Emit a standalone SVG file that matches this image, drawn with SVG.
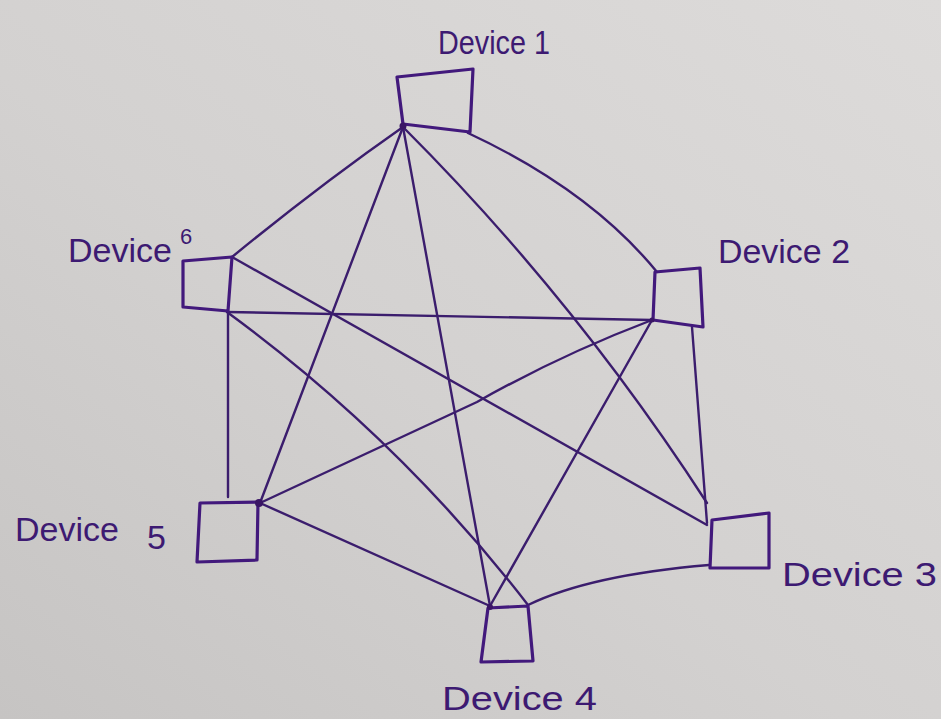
<svg xmlns="http://www.w3.org/2000/svg" width="941" height="719" viewBox="0 0 941 719">
<defs>
<linearGradient id="paper" x1="1" y1="0" x2="0" y2="1">
<stop offset="0" stop-color="#dddbda"/>
<stop offset="0.55" stop-color="#d3d1d0"/>
<stop offset="1" stop-color="#c6c4c3"/>
</linearGradient>
<style>
.link{fill:none;stroke:#3b1d6d;stroke-width:2.4;stroke-linecap:round;stroke-linejoin:round}
.box{fill:none;stroke:#42197c;stroke-width:3.2;stroke-linejoin:round}
.hub{fill:#3a1565}
.lbl{font-family:"Liberation Sans",Arial,sans-serif;fill:#3d1a72;font-size:34px}
</style>
</defs>
<rect x="0" y="0" width="941" height="719" fill="url(#paper)"/>
<g id="connectors">
<path class="link" d="M468,133 Q590,190 657,272"/>
<path class="link" d="M403,127 Q320,185 232,257"/>
<path class="link" d="M403,127 L260,503"/>
<path class="link" d="M403,127 L490,606"/>
<path class="link" d="M403,127 Q575,299 707,503"/>
<path class="link" d="M232,257 L707,525"/>
<path class="link" d="M227,312 L652,320"/>
<path class="link" d="M227,312 Q399,438 528,605"/>
<path class="link" d="M228,312 L228,497"/>
<path class="link" d="M260,503 L477,402 Q560,355 652,320"/>
<path class="link" d="M652,320 L490,606"/>
<path class="link" d="M692,327 L707,523"/>
<path class="link" d="M528,605 Q590,575 709,565"/>
<path class="link" d="M260,503 L490,606"/>
</g>
<g id="device1">
<path class="box" d="M397,77 L473,69 L470,132 L403,124 Z"/>
<circle class="hub" cx="403" cy="126" r="3.5"/>
<text class="lbl" x="438" y="54" font-size="32" textLength="112" lengthAdjust="spacingAndGlyphs">Device 1</text>
</g>
<g id="device2">
<path class="box" d="M655,272 L700,268 L703,327 L653,320 Z"/>
<circle class="hub" cx="652" cy="320" r="2.5"/>
<text class="lbl" x="718" y="263" textLength="132" lengthAdjust="spacingAndGlyphs">Device 2</text>
</g>
<g id="device3">
<path class="box" d="M712,520 L769,513 L769,568 L710,568 Z"/>
<text class="lbl" x="782" y="586" textLength="155" lengthAdjust="spacingAndGlyphs">Device 3</text>
</g>
<g id="device4">
<path class="box" d="M488,608 L528,606 L533,661 L481,662 Z"/>
<circle class="hub" cx="490" cy="607" r="3"/>
<text class="lbl" x="442" y="710" textLength="155" lengthAdjust="spacingAndGlyphs">Device 4</text>
</g>
<g id="device5">
<path class="box" d="M200,503 L258,502 L257,560 L197,562 Z"/>
<circle class="hub" cx="259" cy="503" r="4"/>
<text class="lbl" x="15" y="541">Device <tspan x="147" y="549">5</tspan></text>
</g>
<g id="device6">
<path class="box" d="M183,261 L232,257 L228,311 L183,307 Z"/>
<text class="lbl" x="68" y="262" font-size="30">Device <tspan x="180" y="244" font-size="22">6</tspan></text>
</g>
</svg>
